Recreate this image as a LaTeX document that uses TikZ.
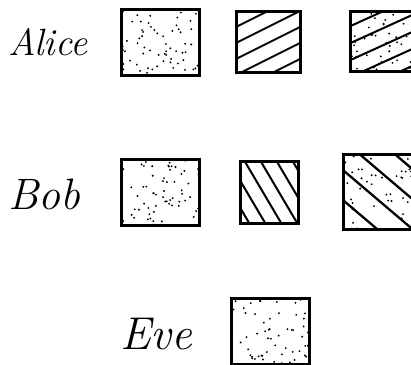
\documentclass[tikz,border=0pt]{standalone}
\usetikzlibrary{calc}
\newcommand\skdots[2]{\pgfmathsetseed{#1}\foreach \k in {1,...,#2}{\fill ({2+rnd*86},{2+rnd*86}) circle (1.05pt);}}
\newcommand\skinside[2]{\begin{scope}\clip (#1.north west) rectangle (#1.south east);
  \begin{scope}[shift={(#1.north west)}]#2\end{scope}\end{scope}}
\begin{document}
\begin{tikzpicture}[x=1pt,y=-1pt,
  sqbox/.style n args={2}{draw, line width=2.5pt, inner sep=0pt, anchor=north west,
    minimum width=#1pt, minimum height=#2pt},
  hatchline/.style={line width=2pt, line cap=round},
  who/.style={anchor=base west, inner sep=0pt, font=\fontsize{#1}{#1}\selectfont\itshape}
]
\useasboundingbox (0,0) rectangle (411,364);
\clip (0,0) rectangle (411,364);
% Alice row
\node[who=38] (alice) at (8,55) {Alice};
\node[sqbox={78}{66}] (a1) at (120,8) {};
\node[sqbox={64}{61}] (a2) at (235,10) {};
\node[sqbox={63}{60}] (a3) at (349,10) {};
% Bob row
\node[who=44] (bob) at (8,209) {Bob};
\node[sqbox={78}{66}] (b1) at (120,158) {};
\node[sqbox={58}{62}] (b2) at (239,160) {};
\node[sqbox={75}{75}, line width=2.9pt] (b3) at (342,153) {};
% Eve row
\node[who=46] (eve) at (120,349) {Eve};
\node[sqbox={78}{66}] (e1) at (230,297) {};
% fills
\skinside{a1}{\skdots{11}{80}}
\skinside{a2}{\foreach \o in {4,20,...,140}{\draw[hatchline] (-5,\o) -- ++(110,-55);}}
\skinside{a3}{\skdots{23}{70}\foreach \o in {2,19,...,140}{\draw[hatchline] (-5,\o) -- ++(110,-50);}}
\skinside{b1}{\skdots{37}{80}}
\skinside{b2}{\foreach \o in {-110,-94,...,82}{\draw[hatchline] (\o,-5) -- ++(62,105);}}
\skinside{b3}{\skdots{51}{75}\foreach \o in {-108,-78,...,102}{\draw[hatchline, line width=2.3pt] (-5,\o) -- ++(120,102);}}
\skinside{e1}{\skdots{73}{80}}
\end{tikzpicture}
\end{document}
